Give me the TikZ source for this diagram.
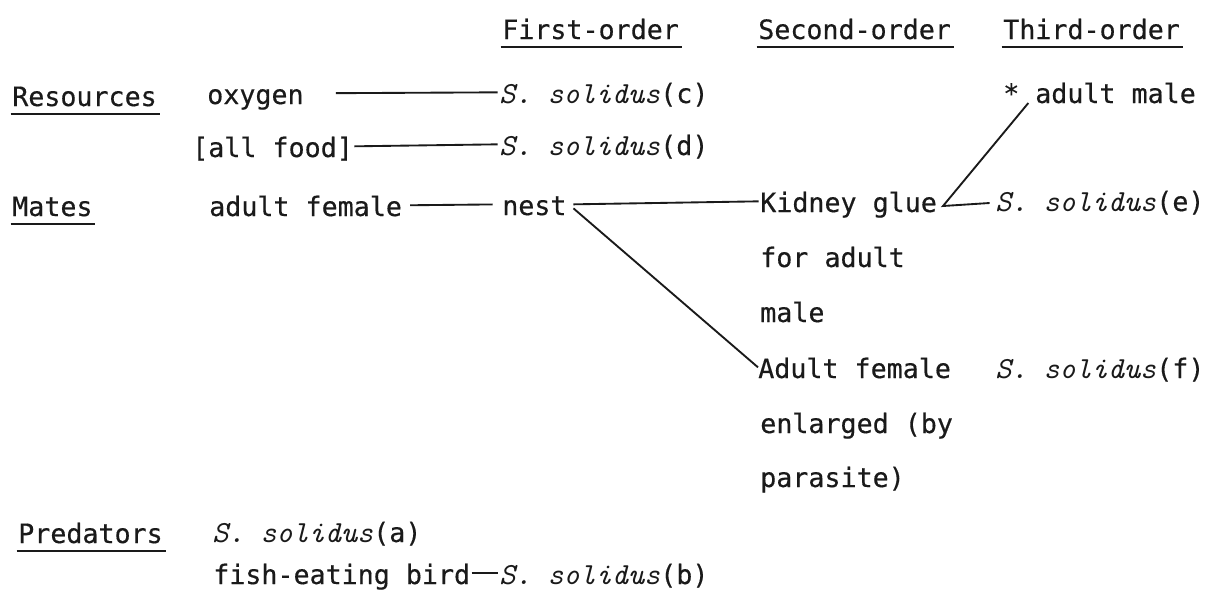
\documentclass[tikz,border=0pt]{standalone}
\usepackage{fontspec}
\newfontfamily\tw{DejaVu Sans Mono}[FakeBold=0.4]
% species names: typewriter italic
\newcommand\solfont{\fontsize{23}{23}\selectfont\ttfamily\itshape}
\newcommand\Ssol[1]{{\solfont S.\ solidus}(#1)}
\definecolor{ink}{HTML}{1A1A1A}
\begin{document}
\begin{tikzpicture}[x=0.75pt,y=-0.75pt,
  every node/.style={inner sep=0pt, anchor=base west, text=ink,
    font=\tw\fontsize{20}{20}\selectfont},
  link/.style={draw=ink, line width=1.4pt},
  ul/.style={draw=ink, line width=1.7pt},
  mid/.style={yshift=8pt}]
\useasboundingbox[fill=white] (0,0) rectangle (1212,593);

% column headings
\node (h1) at (502,39) {First-order};
\node (h2) at (758,39) {Second-order};
\node (h3) at (1003,39) {Third-order};

% resources
\node (res)  at (12,106)  {Resources};
\node (oxy)  at (207,104) {oxygen};
\node (solc) at (499,103) {\Ssol{c}};
\node (star) at (1003,103) {*};
\node (amale) at (1035,103) {adult male};
\node (food) at (192,157) {[all food]};
\node (sold) at (499,155) {\Ssol{d}};

% mates
\node (mates) at (12,216)  {Mates};
\node (afem)  at (209,216) {adult female};
\node (nest)  at (502,215) {nest};
\node (kid)   at (760,212) {Kidney glue};
\node (kid2)  at (760,267) {for adult};
\node (kid3)  at (760,322) {male};
\node (sole)  at (995,211) {\Ssol{e}};
\node (enl)   at (758,378) {Adult female};
\node (enl2)  at (760,433) {enlarged (by};
\node (enl3)  at (760,487) {parasite)};
\node (solf)  at (995,378) {\Ssol{f}};

% predators
\node (pred) at (18,543)  {Predators};
\node (sola) at (212,542) {\Ssol{a}};
\node (bird) at (213,584) {fish-eating bird};
\node (solb) at (499,584) {\Ssol{b}};

% underlines
\foreach \n in {h1,h2,h3,res,mates,pred}
  \draw[ul] ([xshift=-1pt,yshift=-6pt]\n.base west) -- ([xshift=2pt,yshift=-6pt]\n.base east);

% connectors, drawn at mid letter height
\draw[link, shorten <=24pt] ([mid]oxy.base east) -- ([mid,xshift=-1pt]solc.base west);
\draw[link, shorten <=1pt] ([mid]food.base east) -- ([mid,xshift=-1pt]sold.base west);
\draw[link, shorten <=6pt, shorten >=7pt] ([mid]afem.base east) -- ([mid]nest.base west);
\draw[link] ([mid,xshift=5pt]nest.base east) -- ([mid,xshift=-1pt]kid.base west);
\draw[link] ([mid,xshift=5pt,yshift=-3pt]nest.base east) -- ([mid]enl.base west);
\coordinate (hook) at (943,206);
\draw[link] ([xshift=-4pt,yshift=6pt]sole.base west) -- (hook) -- ([xshift=-5pt]amale.base west);
\draw[link, shorten <=1pt] ([mid]bird.base east) -- ([mid,xshift=-1pt]solb.base west);
\end{tikzpicture}
\end{document}
